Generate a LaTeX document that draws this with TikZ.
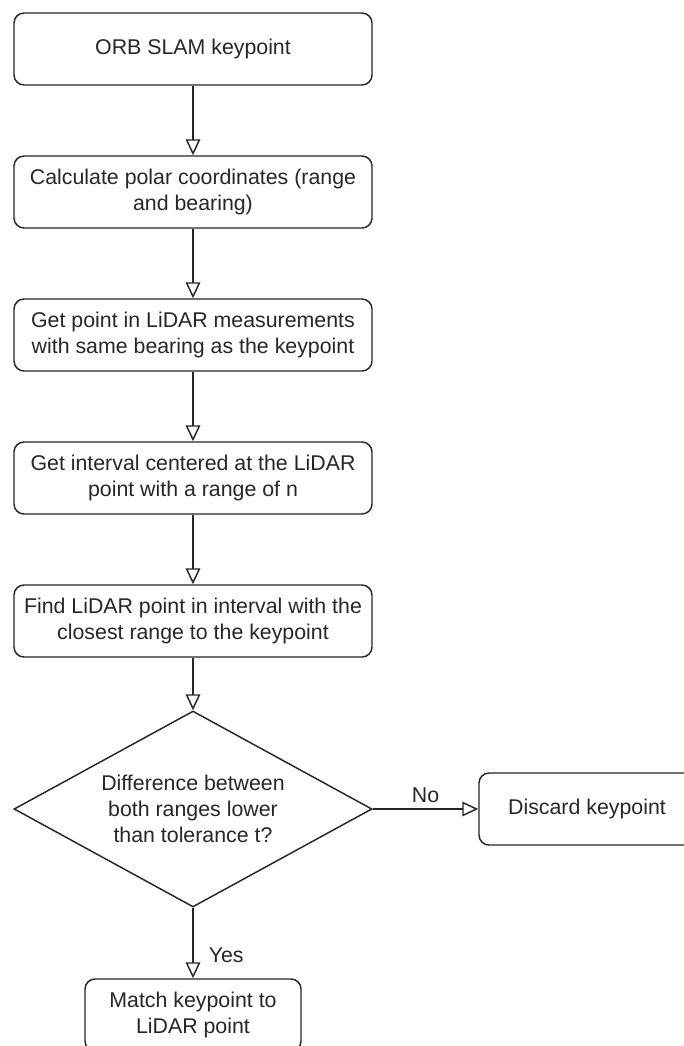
\documentclass[tikz,border=0pt]{standalone}
\usepackage{fontspec}
\setmainfont{Liberation Sans}
\usepackage{tikz}
\usetikzlibrary{shapes.geometric, arrows.meta}

\begin{document}
\begin{tikzpicture}[x=0.75pt, y=-0.75pt,
        every node/.style={text=black!85, font=\fontsize{16pt}{19.5pt}\selectfont, align=center},
        stepbox/.style={draw=black!85, line width=1.1pt, rounded corners=7.5pt, minimum width=268.5pt, minimum height=54pt, inner sep=0pt},
        smallbox/.style={stepbox, minimum width=162pt},
        decision/.style={draw=black!85, line width=1.1pt, diamond, aspect=2, minimum width=268.5pt, minimum height=147pt, inner sep=0pt},
        flow/.style={draw=black!85, line width=1.1pt, -{Triangle[open, fill=white, length=12pt, width=11pt]}}]
            \useasboundingbox (0,0) rectangle (684,1046);
            \node[stepbox] (orb) at (193, 49) {ORB SLAM keypoint};
            \node[stepbox] (polar) at (193, 192) {Calculate polar coordinates (range\\and bearing)};
            \node[stepbox] (bearing) at (193, 335) {Get point in LiDAR measurements\\with same bearing as the keypoint};
            \node[stepbox] (interval) at (193, 478) {Get interval centered at the LiDAR\\point with a range of n};
            \node[stepbox] (closest) at (193, 621) {Find LiDAR point in interval with the\\closest range to the keypoint};
            \node[decision] (check) at (193, 809) {Difference between\\both ranges lower\\than tolerance t?};
            \node[smallbox] (discard) at (587, 809) {Discard keypoint};
            \node[smallbox] (match) at (193, 1015) {Match keypoint to\\LiDAR point};

            \draw[flow] (orb) -- (polar);
            \draw[flow] (polar) -- (bearing);
            \draw[flow] (bearing) -- (interval);
            \draw[flow] (interval) -- (closest);
            \draw[flow] (closest) -- (check);
            \draw[flow] (check) -- node[above=1pt] {No} (discard);
            \draw[flow] (check) -- node[right=8pt, pos=0.68] {Yes} (match);

        \end{tikzpicture}
\end{document}
